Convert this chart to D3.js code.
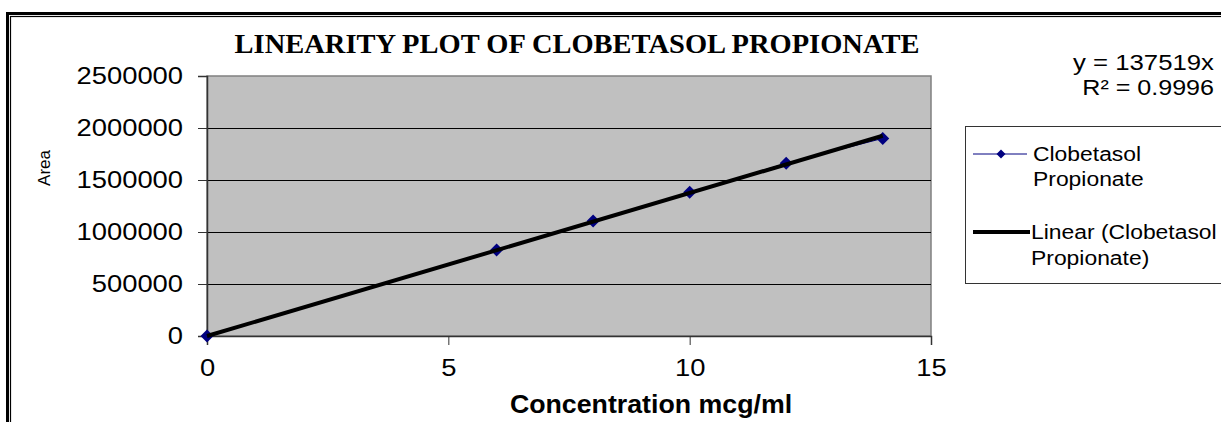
<!DOCTYPE html>
<html>
<head>
	<script src="https://d3js.org/d3.v7.min.js"></script>
	<title></title>
	<style type="text/css">
		body { margin: 0; background: #ffffff; }
		text { font-family: "Liberation Sans", Arial, sans-serif; fill: #000; }
		.title { font-family: "Liberation Serif", "Times New Roman", serif; font-weight: bold; }
	</style>
</head>
<body>
	<div id="chart"></div>

	<script type="text/javascript">

		// data
		var concentration = [0, 6, 8, 10, 12, 14];
		var area = [0, 827000, 1106000, 1382000, 1660000, 1900000];
		var slope = 137519;
		var xTicks = [0, 5, 10, 15];
		var yTicks = [0, 500000, 1000000, 1500000, 2000000, 2500000];
		var seriesName = ["Clobetasol", "Propionate"];
		var trendName = ["Linear (Clobetasol", "Propionate)"];

		var width = 1221, height = 422;
		var SX = 1.14; // reference text is a bit wider than Arial

		var svg = d3.select("#chart")
		  .append("svg")
		  .attr("width", width)
		  .attr("height", height)
		  .style("display", "block")
		  .style("background-color", "#ffffff");

		// double frame (runs off the right and bottom edges)
		svg.append("rect").attr("x", 7.5).attr("y", 13.5).attr("width", 1300).attr("height", 500)
		  .attr("fill", "none").attr("stroke", "#000").attr("stroke-width", 3);
		svg.append("rect").attr("x", 10.5).attr("y", 16.5).attr("width", 1300).attr("height", 500)
		  .attr("fill", "none").attr("stroke", "#000").attr("stroke-width", 1.2);

		var plot = {left: 207, right: 931, top: 76, bottom: 336};

		var xscale = d3.scaleLinear().domain([0, 15]).range([plot.left, plot.right]);
		var yscale = d3.scaleLinear().domain([0, 2500000]).range([plot.bottom, plot.top]);

		// plot area
		svg.append("rect")
		  .attr("x", plot.left).attr("y", plot.top)
		  .attr("width", plot.right - plot.left).attr("height", plot.bottom - plot.top)
		  .attr("fill", "#c0c0c0").attr("stroke", "#808080").attr("stroke-width", 1.5);

		// gridlines
		svg.append("g").selectAll("line")
		  .data(yTicks.slice(1, -1))
		  .enter().append("line")
		  .attr("x1", plot.left).attr("x2", plot.right)
		  .attr("y1", function(d){ return Math.round(yscale(d)) + 0.5; })
		  .attr("y2", function(d){ return Math.round(yscale(d)) + 0.5; })
		  .attr("stroke", "#000").attr("stroke-width", 1);

		function stretchTicks(g, s) {
		  g.selectAll(".tick text").each(function() {
		    var t = d3.select(this);
		    t.attr("x", (+t.attr("x") || 0) / s).attr("transform", "scale(" + s + ",1)");
		  });
		}

		var yaxis = svg.append("g")
		  .attr("transform", "translate(" + plot.left + ",0)")
		  .call(d3.axisLeft(yscale).tickValues(yTicks).tickFormat(d3.format("d")).tickSize(9).tickPadding(15));
		yaxis.select(".domain").attr("stroke", "#333").attr("stroke-width", 1.5);
		yaxis.selectAll(".tick line").attr("stroke", "#333");
		yaxis.selectAll(".tick text").attr("font-size", 24).attr("font-family", "Liberation Sans").attr("fill", "#000");
		stretchTicks(yaxis, SX);

		var xaxis = svg.append("g")
		  .attr("transform", "translate(0," + plot.bottom + ")")
		  .call(d3.axisBottom(xscale).tickValues(xTicks).tickSize(9).tickPadding(14));
		xaxis.select(".domain").attr("stroke", "#333").attr("stroke-width", 1.5);
		xaxis.selectAll(".tick line").attr("stroke", "#333");
		xaxis.selectAll(".tick text").attr("font-size", 24).attr("font-family", "Liberation Sans").attr("fill", "#000");
		stretchTicks(xaxis, SX);

		// series line
		var pts = concentration.map(function(c, i){ return [c, area[i]]; });
		svg.append("path")
		  .datum(pts)
		  .attr("d", d3.line()
		    .x(function(d){ return xscale(d[0]); })
		    .y(function(d){ return yscale(d[1]); }))
		  .attr("fill", "none").attr("stroke", "#000080").attr("stroke-width", 1);

		function diamond(r) {
		  return "M0," + (-r) + "L" + r + ",0L0," + r + "L" + (-r) + ",0Z";
		}

		svg.append("g").selectAll("path")
		  .data(pts)
		  .enter().append("path")
		  .attr("d", diamond(6.5))
		  .attr("transform", function(d){ return "translate(" + xscale(d[0]) + "," + yscale(d[1]) + ")"; })
		  .attr("fill", "#000080");

		// linear trendline through origin
		var xmax = d3.max(concentration);
		svg.append("path")
		  .datum([0, xmax])
		  .attr("d", d3.line()
		    .x(function(d){ return xscale(d); })
		    .y(function(d){ return yscale(slope * d); }))
		  .attr("fill", "none").attr("stroke", "#000").attr("stroke-width", 4);

		function label(str, x, y, size, s, anchor, cls) {
		  return svg.append("text")
		    .attr("transform", "translate(" + x + "," + y + ") scale(" + s + ",1)")
		    .attr("font-size", size)
		    .attr("text-anchor", anchor || "start")
		    .attr("class", cls || null)
		    .text(str);
		}

		label("LINEARITY PLOT OF CLOBETASOL PROPIONATE", 577, 53, 27, 1.055, "middle", "title");
		label("Concentration mcg/ml", 651, 413, 25, 1.07, "middle").attr("font-weight", "bold");
		svg.append("text")
		  .attr("transform", "translate(50,168) rotate(-90)")
		  .attr("font-size", 17).attr("text-anchor", "middle")
		  .attr("fill", "#222")
		  .text("Area");

		// equation
		label("y = " + slope + "x", 1214, 70, 22, 1.17, "end");
		var r2 = label("", 1214, 95, 22, SX, "end");
		r2.append("tspan").text("R");
		r2.append("tspan").text("\u00b2 = 0.9996");

		// legend
		var lg = svg.append("g");
		lg.append("rect").attr("x", 965.5).attr("y", 126.5).attr("width", 300).attr("height", 157)
		  .attr("fill", "#fff").attr("stroke", "#333").attr("stroke-width", 1);
		lg.append("line").attr("x1", 973).attr("x2", 1027).attr("y1", 154).attr("y2", 154)
		  .attr("stroke", "#000080").attr("stroke-width", 1);
		lg.append("path").attr("d", diamond(4.5)).attr("transform", "translate(1001,154)").attr("fill", "#000080");
		lg.append("line").attr("x1", 973).attr("x2", 1030).attr("y1", 232).attr("y2", 232)
		  .attr("stroke", "#000").attr("stroke-width", 4);
		label(seriesName[0], 1033, 161, 21, 1.09);
		label(seriesName[1], 1033, 186, 21, 1.09);
		label(trendName[0], 1031, 239, 21, 1.09);
		label(trendName[1], 1031, 265, 21, 1.09);

	</script>
</body>
</html>
